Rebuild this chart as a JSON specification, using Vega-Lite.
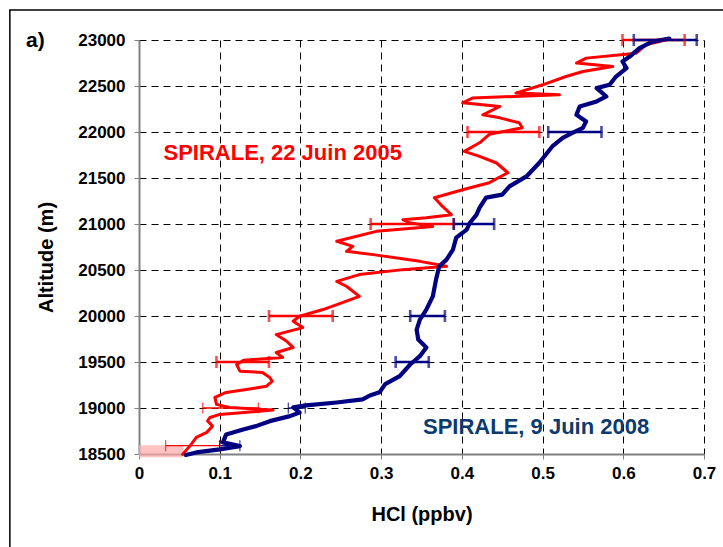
{
  "$schema": "https://vega.github.io/schema/vega-lite/v6.json",
  "width": 565,
  "height": 414,
  "autosize": {"type": "none"},
  "padding": {"left": 139, "top": 40, "right": 19, "bottom": 93},
  "background": "white",
  "config": {
    "view": {"stroke": null},
    "font": "Liberation Sans",
    "axis": {
      "labelFont": "Liberation Sans", "labelFontWeight": "bold", "labelFontSize": 17, "labelColor": "black",
      "titleFont": "Liberation Sans", "titleFontWeight": "bold", "titleFontSize": 20, "titleColor": "black",
      "domainColor": "#808080", "domainWidth": 2, "tickColor": "#808080", "tickSize": 5, "tickWidth": 1,
      "gridColor": "black", "gridDash": [7, 5], "gridWidth": 1, "gridOpacity": 1
    }
  },
  "datasets": {
    "profiles": [
      {"s": "2005", "v": 0.054, "alt": 18496}, {"s": "2005", "v": 0.063, "alt": 18586}, {"s": "2005", "v": 0.071, "alt": 18680},
      {"s": "2005", "v": 0.084, "alt": 18735}, {"s": "2005", "v": 0.091, "alt": 18803}, {"s": "2005", "v": 0.085, "alt": 18860},
      {"s": "2005", "v": 0.088, "alt": 18897}, {"s": "2005", "v": 0.100, "alt": 18930}, {"s": "2005", "v": 0.166, "alt": 18977},
      {"s": "2005", "v": 0.112, "alt": 19006}, {"s": "2005", "v": 0.096, "alt": 19039}, {"s": "2005", "v": 0.094, "alt": 19115},
      {"s": "2005", "v": 0.108, "alt": 19169}, {"s": "2005", "v": 0.133, "alt": 19201}, {"s": "2005", "v": 0.158, "alt": 19237},
      {"s": "2005", "v": 0.165, "alt": 19290}, {"s": "2005", "v": 0.162, "alt": 19332}, {"s": "2005", "v": 0.153, "alt": 19386},
      {"s": "2005", "v": 0.125, "alt": 19400}, {"s": "2005", "v": 0.121, "alt": 19473}, {"s": "2005", "v": 0.130, "alt": 19520},
      {"s": "2005", "v": 0.178, "alt": 19549}, {"s": "2005", "v": 0.170, "alt": 19603}, {"s": "2005", "v": 0.191, "alt": 19657},
      {"s": "2005", "v": 0.183, "alt": 19726}, {"s": "2005", "v": 0.170, "alt": 19798}, {"s": "2005", "v": 0.203, "alt": 19874},
      {"s": "2005", "v": 0.191, "alt": 19943}, {"s": "2005", "v": 0.199, "alt": 19997}, {"s": "2005", "v": 0.228, "alt": 20070},
      {"s": "2005", "v": 0.252, "alt": 20146}, {"s": "2005", "v": 0.273, "alt": 20214}, {"s": "2005", "v": 0.257, "alt": 20323},
      {"s": "2005", "v": 0.245, "alt": 20377}, {"s": "2005", "v": 0.273, "alt": 20450}, {"s": "2005", "v": 0.327, "alt": 20504},
      {"s": "2005", "v": 0.381, "alt": 20540}, {"s": "2005", "v": 0.348, "alt": 20594}, {"s": "2005", "v": 0.290, "alt": 20667},
      {"s": "2005", "v": 0.257, "alt": 20703}, {"s": "2005", "v": 0.265, "alt": 20757}, {"s": "2005", "v": 0.245, "alt": 20812},
      {"s": "2005", "v": 0.294, "alt": 20920}, {"s": "2005", "v": 0.364, "alt": 20974}, {"s": "2005", "v": 0.335, "alt": 21014},
      {"s": "2005", "v": 0.327, "alt": 21047}, {"s": "2005", "v": 0.356, "alt": 21068}, {"s": "2005", "v": 0.387, "alt": 21101},
      {"s": "2005", "v": 0.376, "alt": 21191}, {"s": "2005", "v": 0.366, "alt": 21286}, {"s": "2005", "v": 0.401, "alt": 21373},
      {"s": "2005", "v": 0.434, "alt": 21449}, {"s": "2005", "v": 0.457, "alt": 21557}, {"s": "2005", "v": 0.443, "alt": 21663},
      {"s": "2005", "v": 0.422, "alt": 21735}, {"s": "2005", "v": 0.403, "alt": 21789}, {"s": "2005", "v": 0.422, "alt": 21883},
      {"s": "2005", "v": 0.434, "alt": 21975}, {"s": "2005", "v": 0.475, "alt": 22046}, {"s": "2005", "v": 0.471, "alt": 22100},
      {"s": "2005", "v": 0.447, "alt": 22154}, {"s": "2005", "v": 0.426, "alt": 22187}, {"s": "2005", "v": 0.447, "alt": 22277},
      {"s": "2005", "v": 0.401, "alt": 22317}, {"s": "2005", "v": 0.413, "alt": 22369}, {"s": "2005", "v": 0.521, "alt": 22405},
      {"s": "2005", "v": 0.467, "alt": 22423}, {"s": "2005", "v": 0.500, "alt": 22513}, {"s": "2005", "v": 0.529, "alt": 22603},
      {"s": "2005", "v": 0.550, "alt": 22657}, {"s": "2005", "v": 0.587, "alt": 22712}, {"s": "2005", "v": 0.542, "alt": 22749},
      {"s": "2005", "v": 0.554, "alt": 22803}, {"s": "2005", "v": 0.616, "alt": 22857}, {"s": "2005", "v": 0.628, "alt": 22947},
      {"s": "2005", "v": 0.653, "alt": 23001},
      {"s": "2008", "v": 0.058, "alt": 18490}, {"s": "2008", "v": 0.071, "alt": 18517}, {"s": "2008", "v": 0.100, "alt": 18550},
      {"s": "2008", "v": 0.125, "alt": 18586}, {"s": "2008", "v": 0.104, "alt": 18626}, {"s": "2008", "v": 0.108, "alt": 18713},
      {"s": "2008", "v": 0.129, "alt": 18767}, {"s": "2008", "v": 0.145, "alt": 18803}, {"s": "2008", "v": 0.162, "alt": 18857},
      {"s": "2008", "v": 0.187, "alt": 18912}, {"s": "2008", "v": 0.199, "alt": 18952}, {"s": "2008", "v": 0.191, "alt": 19006},
      {"s": "2008", "v": 0.207, "alt": 19028}, {"s": "2008", "v": 0.245, "alt": 19060}, {"s": "2008", "v": 0.277, "alt": 19093},
      {"s": "2008", "v": 0.286, "alt": 19136}, {"s": "2008", "v": 0.298, "alt": 19170}, {"s": "2008", "v": 0.305, "alt": 19260},
      {"s": "2008", "v": 0.323, "alt": 19346}, {"s": "2008", "v": 0.336, "alt": 19473}, {"s": "2008", "v": 0.348, "alt": 19563},
      {"s": "2008", "v": 0.356, "alt": 19657}, {"s": "2008", "v": 0.346, "alt": 19744}, {"s": "2008", "v": 0.344, "alt": 19852},
      {"s": "2008", "v": 0.348, "alt": 19961}, {"s": "2008", "v": 0.356, "alt": 20070}, {"s": "2008", "v": 0.364, "alt": 20214},
      {"s": "2008", "v": 0.368, "alt": 20396}, {"s": "2008", "v": 0.372, "alt": 20540}, {"s": "2008", "v": 0.381, "alt": 20613},
      {"s": "2008", "v": 0.389, "alt": 20722}, {"s": "2008", "v": 0.393, "alt": 20852}, {"s": "2008", "v": 0.406, "alt": 20939},
      {"s": "2008", "v": 0.410, "alt": 21014}, {"s": "2008", "v": 0.418, "alt": 21100}, {"s": "2008", "v": 0.422, "alt": 21177},
      {"s": "2008", "v": 0.430, "alt": 21286}, {"s": "2008", "v": 0.450, "alt": 21319}, {"s": "2008", "v": 0.459, "alt": 21409},
      {"s": "2008", "v": 0.480, "alt": 21517}, {"s": "2008", "v": 0.496, "alt": 21666}, {"s": "2008", "v": 0.512, "alt": 21843},
      {"s": "2008", "v": 0.525, "alt": 21937}, {"s": "2008", "v": 0.537, "alt": 21991}, {"s": "2008", "v": 0.550, "alt": 22046},
      {"s": "2008", "v": 0.554, "alt": 22115}, {"s": "2008", "v": 0.542, "alt": 22187}, {"s": "2008", "v": 0.546, "alt": 22277},
      {"s": "2008", "v": 0.567, "alt": 22332}, {"s": "2008", "v": 0.579, "alt": 22386}, {"s": "2008", "v": 0.567, "alt": 22477},
      {"s": "2008", "v": 0.583, "alt": 22513}, {"s": "2008", "v": 0.591, "alt": 22603}, {"s": "2008", "v": 0.604, "alt": 22694},
      {"s": "2008", "v": 0.599, "alt": 22766}, {"s": "2008", "v": 0.608, "alt": 22820}, {"s": "2008", "v": 0.620, "alt": 22912},
      {"s": "2008", "v": 0.636, "alt": 22983}, {"s": "2008", "v": 0.657, "alt": 23015}
    ],
    "errs": [
      {"s": "2005", "alt": 23000, "lo": 0.599, "hi": 0.676, "kind": "main"},
      {"s": "2005", "alt": 22000, "lo": 0.407, "hi": 0.496, "kind": "main"},
      {"s": "2005", "alt": 21000, "lo": 0.287, "hi": 0.390, "kind": "main"},
      {"s": "2005", "alt": 20000, "lo": 0.161, "hi": 0.240, "kind": "main"},
      {"s": "2005", "alt": 19500, "lo": 0.096, "hi": 0.161, "kind": "main"},
      {"s": "2005", "alt": 19000, "lo": 0.079, "hi": 0.148, "kind": "thin"},
      {"s": "2005", "alt": 18590, "lo": 0.033, "hi": 0.100, "kind": "thin"},
      {"s": "2008", "alt": 23000, "lo": 0.613, "hi": 0.691, "kind": "main"},
      {"s": "2008", "alt": 22000, "lo": 0.507, "hi": 0.573, "kind": "main"},
      {"s": "2008", "alt": 21000, "lo": 0.390, "hi": 0.440, "kind": "main"},
      {"s": "2008", "alt": 20000, "lo": 0.336, "hi": 0.379, "kind": "main"},
      {"s": "2008", "alt": 19500, "lo": 0.318, "hi": 0.359, "kind": "main"},
      {"s": "2008", "alt": 19000, "lo": 0.185, "hi": 0.206, "kind": "thin"},
      {"s": "2008", "alt": 18590, "lo": 0.100, "hi": 0.125, "kind": "thin"}
    ]
  },
  "layer": [
    {
      "data": {"values": [{}]},
      "mark": {"type": "rect", "fill": "#FFA8A8", "opacity": 0.7, "clip": false},
      "encoding": {
        "x": {"datum": 0, "type": "quantitative", "scale": {"domain": [0, 0.7], "nice": false, "zero": false},
          "axis": {"values": [0, 0.1, 0.2, 0.3, 0.4, 0.5, 0.6, 0.7], "format": ".1~f", "title": "HCl (ppbv)", "labelPadding": 6, "titleY": 66, "titleBaseline": "alphabetic", "grid": true, "labelFlush": false}},
        "x2": {"datum": 0.055},
        "y": {"datum": 18465, "type": "quantitative", "scale": {"domain": [18500, 23000], "nice": false, "zero": false},
          "axis": {"values": [18500, 19000, 19500, 20000, 20500, 21000, 21500, 22000, 22500, 23000], "format": "d", "title": "Altitude (m)", "labelPadding": 9, "titleX": -87, "titleY": 217, "titleAngle": -90, "titleAlign": "center", "titleBaseline": "alphabetic", "grid": true, "labelFlush": false}},
        "y2": {"datum": 18595}
      }
    },
    {
      "data": {"name": "profiles"},
      "mark": {"type": "line", "strokeJoin": "round", "strokeCap": "round", "clip": false},
      "encoding": {
        "x": {"field": "v", "type": "quantitative"},
        "y": {"field": "alt", "type": "quantitative"},
        "order": {"field": "alt"},
        "color": {"field": "s", "type": "nominal", "scale": {"domain": ["2005", "2008"], "range": ["#FF0000", "#000080"]}, "legend": null},
        "strokeWidth": {"field": "s", "type": "nominal", "scale": {"domain": ["2005", "2008"], "range": [3, 4.2]}, "legend": null}
      }
    },
    {
      "data": {"name": "errs"},
      "transform": [{"filter": "datum.kind === 'main'"}],
      "mark": {"type": "rule", "strokeWidth": 2.6},
      "encoding": {
        "x": {"field": "lo", "type": "quantitative"},
        "x2": {"field": "hi"},
        "y": {"field": "alt", "type": "quantitative"},
        "color": {"field": "s", "type": "nominal", "scale": {"domain": ["2005", "2008"], "range": ["#FF0000", "#000080"]}, "legend": null}
      }
    },
    {
      "data": {"name": "errs"},
      "transform": [{"filter": "datum.kind === 'thin'"}],
      "mark": {"type": "rule", "strokeWidth": 1.3},
      "encoding": {
        "x": {"field": "lo", "type": "quantitative"},
        "x2": {"field": "hi"},
        "y": {"field": "alt", "type": "quantitative"},
        "color": {"field": "s", "type": "nominal", "scale": {"domain": ["2005", "2008"], "range": ["#FF0000", "#000080"]}, "legend": null}
      }
    },
    {
      "data": {"name": "errs"},
      "transform": [{"filter": "datum.kind === 'main'"}, {"fold": ["lo", "hi"], "as": ["end", "xv"]}],
      "mark": {"type": "tick", "orient": "vertical", "size": 12, "thickness": 2.6},
      "encoding": {
        "x": {"field": "xv", "type": "quantitative"},
        "y": {"field": "alt", "type": "quantitative"},
        "color": {"field": "s", "type": "nominal", "scale": {"domain": ["2005", "2008"], "range": ["#FF0000", "#000080"]}, "legend": null}
      }
    },
    {
      "data": {"name": "errs"},
      "transform": [{"filter": "datum.kind === 'thin'"}, {"fold": ["lo", "hi"], "as": ["end", "xv"]}],
      "mark": {"type": "tick", "orient": "vertical", "size": 11, "thickness": 1.3},
      "encoding": {
        "x": {"field": "xv", "type": "quantitative"},
        "y": {"field": "alt", "type": "quantitative"},
        "color": {"field": "s", "type": "nominal", "scale": {"domain": ["2005", "2008"], "range": ["#FF0000", "#000080"]}, "legend": null}
      }
    },
    {
      "data": {"values": [{"label": "SPIRALE, 22 Juin 2005", "s": "2005", "v": 0.178, "alt": 21779}, {"label": "SPIRALE, 9 Juin 2008", "s": "2008", "v": 0.492, "alt": 18800}]},
      "mark": {"type": "text", "font": "Liberation Sans", "fontWeight": "bold", "fontSize": 22, "align": "center", "baseline": "middle", "dy": 1},
      "encoding": {
        "x": {"field": "v", "type": "quantitative"},
        "y": {"field": "alt", "type": "quantitative"},
        "text": {"field": "label"},
        "color": {"field": "s", "type": "nominal", "scale": {"domain": ["2005", "2008"], "range": ["#FF0000", "#0B3A6E"]}, "legend": null}
      }
    },
    {
      "data": {"values": [{"label": "a)"}]},
      "mark": {"type": "text", "font": "Liberation Sans", "fontWeight": "bold", "fontSize": 21, "align": "left", "baseline": "alphabetic", "color": "black", "clip": false},
      "encoding": {
        "x": {"datum": -0.14, "type": "quantitative"},
        "y": {"datum": 22925, "type": "quantitative"},
        "text": {"field": "label"}
      }
    },
    {
      "data": {"values": [{}]},
      "mark": {"type": "rect", "fill": null, "stroke": "black", "strokeWidth": 1.5, "clip": false},
      "encoding": {
        "x": {"datum": -0.16, "type": "quantitative"},
        "x2": {"datum": 0.8},
        "y": {"datum": 23327, "type": "quantitative"},
        "y2": {"datum": 17000}
      }
    }
  ],
  "resolve": {"scale": {"color": "independent", "strokeWidth": "independent"}}
}
